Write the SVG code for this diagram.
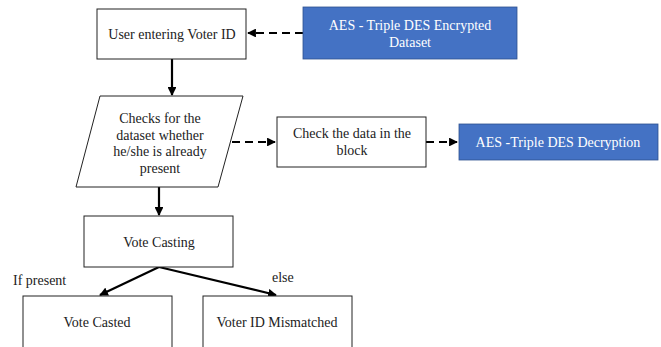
<svg xmlns="http://www.w3.org/2000/svg" width="661" height="347" viewBox="0 0 661 347">
<defs>
<style>
.box{fill:#fff;stroke:#222;stroke-width:1}
.blue{fill:#4472C4;stroke:#2F528F;stroke-width:0.8}
.t{font-family:"Liberation Serif","Times New Roman",serif;font-size:14px;fill:#222;text-anchor:middle}
.w{fill:#fff}
.lbl{font-family:"Liberation Serif","Times New Roman",serif;font-size:14px;fill:#222}
.solid{stroke:#000;stroke-width:2.2;fill:none}
.dash{stroke:#000;stroke-width:2.2;fill:none;stroke-dasharray:8,5}
</style>
<marker id="ah" viewBox="0 0 10 10" refX="9" refY="5" markerWidth="4" markerHeight="4" orient="auto" markerUnits="strokeWidth">
<path d="M0,0 L10,5 L0,10 z" fill="#000"/>
</marker>
</defs>
<g id="connectors">
<path class="dash" d="M303,33 L248,33" marker-end="url(#ah)"/>
<path class="solid" d="M172,59 L172,95" marker-end="url(#ah)"/>
<path class="dash" d="M232,142 L275,142" marker-end="url(#ah)"/>
<path class="dash" d="M426,142 L457,142" marker-end="url(#ah)"/>
<path class="solid" d="M159,187 L159,215" marker-end="url(#ah)"/>
<path class="solid" d="M159,267 L100,295" marker-end="url(#ah)"/>
<path class="solid" d="M159,267 L276,295" marker-end="url(#ah)"/>
</g>
<g id="user">
<rect class="box" x="97" y="9" width="149" height="50"/>
<text class="t" x="172" y="39">User entering Voter ID</text>
</g>
<g id="encrypted">
<rect class="blue" x="303" y="7" width="214" height="52"/>
<text class="t w" x="410" y="30">AES - Triple DES Encrypted</text>
<text class="t w" x="410" y="47">Dataset</text>
</g>
<g id="checks">
<polygon class="box" points="100,96 243,96 218,187 76,187"/>
<text class="t" x="160" y="123">Checks for the</text>
<text class="t" x="160" y="140">dataset whether</text>
<text class="t" x="160" y="156">he/she is already</text>
<text class="t" x="160" y="173">present</text>
</g>
<g id="checkblock">
<rect class="box" x="277" y="117" width="149" height="50"/>
<text class="t" x="352" y="138">Check the data in the</text>
<text class="t" x="352" y="155">block</text>
</g>
<g id="decryption">
<rect class="blue" x="459" y="124" width="199" height="36"/>
<text class="t w" x="558" y="147">AES -Triple DES Decryption</text>
</g>
<g id="votecasting">
<rect class="box" x="84" y="216" width="149" height="51"/>
<text class="t" x="159" y="247">Vote Casting</text>
</g>
<g id="labels">
<text class="lbl" x="13" y="285">If present</text>
<text class="lbl" x="272" y="282">else</text>
</g>
<g id="votecasted">
<rect class="box" x="23" y="296" width="149" height="60"/>
<text class="t" x="97" y="327">Vote Casted</text>
</g>
<g id="mismatch">
<rect class="box" x="203" y="296" width="149" height="60"/>
<text class="t" x="277" y="327">Voter ID Mismatched</text>
</g>
</svg>
